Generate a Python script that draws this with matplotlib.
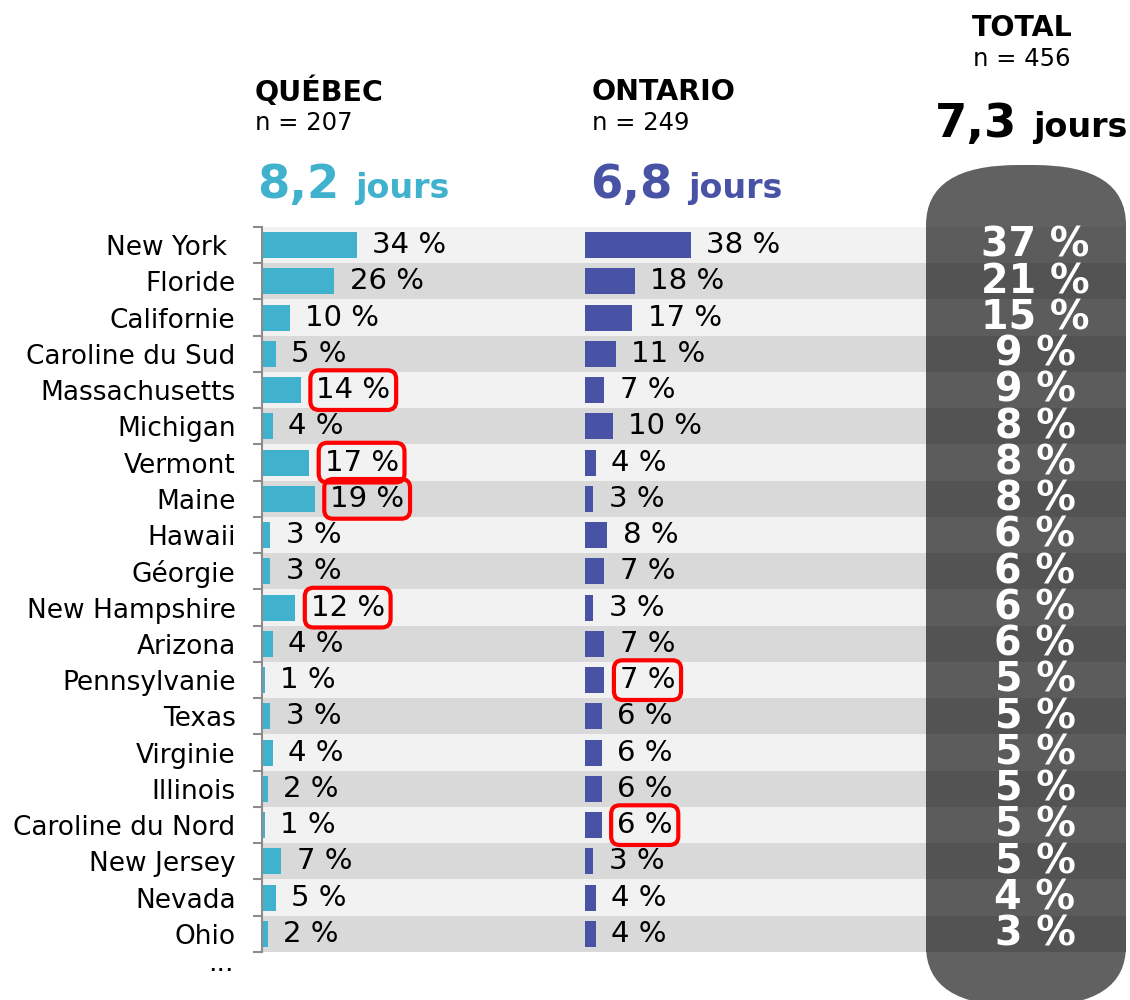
import matplotlib.pyplot as plt
from matplotlib.patches import FancyBboxPatch, Rectangle

W, H = 1130, 1000

states = ["New York ", "Floride", "Californie", "Caroline du Sud", "Massachusetts",
          "Michigan", "Vermont", "Maine", "Hawaii", "Géorgie", "New Hampshire",
          "Arizona", "Pennsylvanie", "Texas", "Virginie", "Illinois",
          "Caroline du Nord", "New Jersey", "Nevada", "Ohio"]
quebec = [34, 26, 10, 5, 14, 4, 17, 19, 3, 3, 12, 4, 1, 3, 4, 2, 1, 7, 5, 2]
ontario = [38, 18, 17, 11, 7, 10, 4, 3, 8, 7, 3, 7, 7, 6, 6, 6, 6, 3, 4, 4]
total = [37, 21, 15, 9, 9, 8, 8, 8, 6, 6, 6, 6, 5, 5, 5, 5, 5, 5, 4, 3]
hl_quebec = ["Massachusetts", "Vermont", "Maine", "New Hampshire"]
hl_ontario = ["Pennsylvanie", "Caroline du Nord"]

headers = [("QUÉBEC", "n = 207", "8,2", "#40b2ce"),
           ("ONTARIO", "n = 249", "6,8", "#4953a6"),
           ("TOTAL", "n = 456", "7,3", "black")]

C_QC = "#40b2ce"
C_ON = "#4953a6"
LIGHT, DARK = "#f2f2f2", "#d9d9d9"
PX_PER_PCT = 2.78
n = len(states)
rows = list(range(n))

plt.rcParams['font.family'] = ['DejaVu Sans']
fig = plt.figure(figsize=(W / 100, H / 100), dpi=100)


def box(x0, y0, x1, y1):
    return [x0 / W, 1 - y1 / H, (x1 - x0) / W, (y1 - y0) / H]


TOP, BOT = 227, 952

# alternating row bands
bg = fig.add_axes(box(262, TOP, 1126, BOT))
bg.set_xlim(0, 1)
bg.set_ylim(n - 0.5, -0.5)
bg.axis("off")
for i in rows:
    bg.axhspan(i - 0.5, i + 0.5, color=LIGHT if i % 2 == 0 else DARK, lw=0)


def bar_panel(x0, x1, values, color, highlight):
    ax = fig.add_axes(box(x0, TOP, x1, BOT))
    ax.patch.set_visible(False)
    ax.set_xlim(0, (x1 - x0) / PX_PER_PCT)
    ax.set_ylim(n - 0.5, -0.5)
    ax.barh(rows, values, height=0.72, color=color)
    for i, v in enumerate(values):
        kw = {}
        if states[i].strip() in highlight:
            kw["bbox"] = dict(boxstyle="round,pad=0.2,rounding_size=0.3",
                              fc="none", ec="#ff0000", lw=3)
        ax.annotate(f"{v} %", xy=(v, i), xytext=(11, 0), textcoords="offset points",
                    ha="left", va="center", fontsize=21, **kw)
    for s in ["top", "right", "bottom"]:
        ax.spines[s].set_visible(False)
    ax.set_xticks([])
    return ax


ax_qc = bar_panel(262, 582, quebec, C_QC, hl_quebec)
ax_on = bar_panel(585, 925, ontario, C_ON, hl_ontario)
ax_on.spines["left"].set_visible(False)
ax_on.set_yticks([])

ax_qc.spines["left"].set_color("#8c8c8c")
ax_qc.spines["left"].set_linewidth(1.5)
ax_qc.set_yticks(rows, states, fontsize=19)
ax_qc.set_yticks([i - 0.5 for i in range(n + 1)], minor=True)
ax_qc.tick_params(axis="y", which="major", length=0, pad=19)
ax_qc.tick_params(axis="y", which="minor", length=6.5, width=1.5, color="#8c8c8c")
fig.text(234 / W, 1 - 971 / H, "...", ha="right", va="baseline", fontsize=19)

# total column
ax_t = fig.add_axes(box(926, TOP, 1126, BOT))
ax_t.set_xlim(0, 1)
ax_t.set_ylim(n - 0.5, -0.5)
ax_t.axis("off")
pill = FancyBboxPatch((0, -2.21), 1, 23.2, boxstyle="round,pad=0,rounding_size=0.46",
                      mutation_aspect=3.6, fc="#616161", ec="none", clip_on=False)
ax_t.add_patch(pill)
for i, v in enumerate(total):
    r = Rectangle((0, i - 0.5), 1, 1, fc="#5c5c5c" if i % 2 == 0 else "#535353",
                  ec="none", clip_on=False)
    ax_t.add_patch(r)
    r.set_clip_path(pill)
    ax_t.text(0.545, i + 0.02, f"{v} %", ha="center", va="center", color="white",
              fontsize=28.5, fontweight="bold")

# column headers
head_pos = [(255, 92, 257, 198), (592, 92, 590, 198), (1022, 28, 935, 137)]
big = []
for (title, count, days, col), (hx, hy, dx, dy) in zip(headers, head_pos):
    ha = "center" if title == "TOTAL" else "left"
    fig.text(hx / W, 1 - hy / H, title, ha=ha, va="center", fontsize=20.5,
             fontweight="bold")
    fig.text(hx / W, 1 - (hy + 31) / H, count, ha=ha, va="center", fontsize=17.5)
    t = fig.text(dx / W, 1 - dy / H, days, ha="left", va="baseline", fontsize=33.5,
                 fontweight="bold", color=col)
    big.append((t, dy, col))

fig.canvas.draw()
for t, dy, col in big:
    x_end = t.get_window_extent().x1
    fig.text((x_end + 16) / W, 1 - dy / H, "jours", ha="left", va="baseline",
             fontsize=24, fontweight="bold", color=col)

fig.savefig("out.png", dpi=100)
